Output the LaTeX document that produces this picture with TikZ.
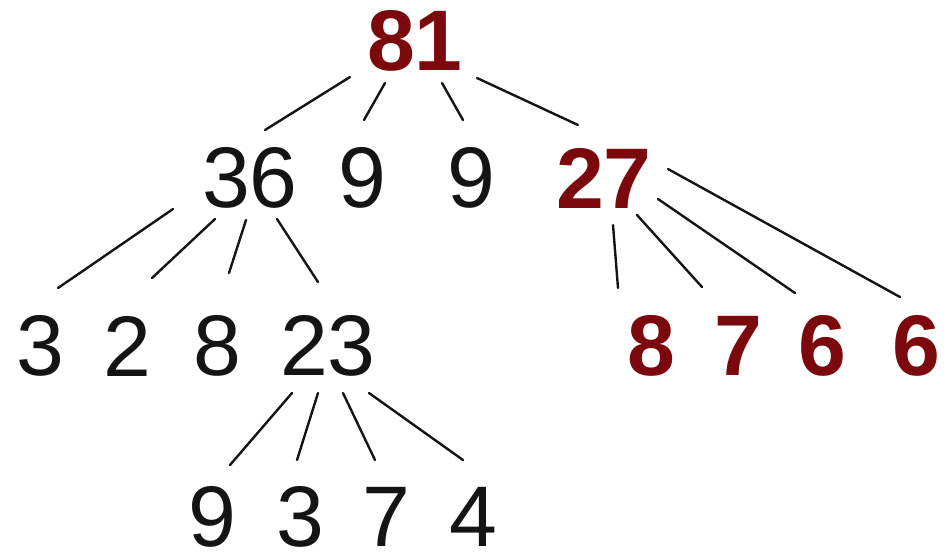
\documentclass[tikz,border=0pt]{standalone}
\usepackage{fontspec}
\setmainfont{Liberation Sans}
\usepackage{xcolor}
\usepackage{tikz}
\usetikzlibrary{calc}
\definecolor{deepred}{RGB}{122,8,12}
\definecolor{inkblack}{RGB}{20,20,20}

\begin{document}
\begin{tikzpicture}[x=0.5pt,y=-0.5pt,
  num/.style={font=\fontsize{43}{43}\selectfont,inner sep=0pt,text=inkblack},
  hot/.style={font=\fontsize{43}{43}\selectfont\bfseries,inner sep=0pt,text=deepred},
  edge/.style={line width=1.2pt,line cap=round,inkblack},
]
  \useasboundingbox (0,0) rectangle (951,554);

  % levels
  \node[hot] (r) at (415,41) {81};
  \node[num] (a) at (250,178) {36};
  \node[num] (b) at (362,178) {9};
  \node[num] (c) at (471,178) {9};
  \node[hot] (d) at (604,178) {27};
  \node[num] (a1) at (40,346) {3};
  \node[num] (a2) at (127,346) {2};
  \node[num] (a3) at (217,346) {8};
  \node[num] (a4) at (328,346) {23};
  \node[hot] (d1) at (651,346) {8};
  \node[hot] (d2) at (738,346) {7};
  \node[hot] (d3) at (822,346) {6};
  \node[hot] (d4) at (916,346) {6};
  \node[num] (e1) at (212,517) {9};
  \node[num] (e2) at (300,517) {3};
  \node[num] (e3) at (386,517) {7};
  \node[num] (e4) at (473,517) {4};

  % 81
  \draw[edge] ($(r)+(-65,36)$) -- ($(a)+(15,-48)$);
  \draw[edge] ($(r)+(-30,42)$) -- ($(b)+(2,-58)$);
  \draw[edge] ($(r)+(27,42)$) -- ($(c)+(-8,-58)$);
  \draw[edge] ($(r)+(62,37)$) -- ($(d)+(-26,-53)$);
  % 36
  \draw[edge] ($(a)+(-77,31)$) -- ($(a1)+(18,-58)$);
  \draw[edge] ($(a)+(-35,41)$) -- ($(a2)+(25,-68)$);
  \draw[edge] ($(a)+(-4,42)$) -- ($(a3)+(12,-73)$);
  \draw[edge] ($(a)+(27,41)$) -- ($(a4)+(-10,-64)$);
  % 27
  \draw[edge] ($(d)+(9,47)$) -- ($(d1)+(-33,-58)$);
  \draw[edge] ($(d)+(33,37)$) -- ($(d2)+(-36,-59)$);
  \draw[edge] ($(d)+(54,21)$) -- ($(d3)+(-27,-53)$);
  \draw[edge] ($(d)+(64,-9)$) -- ($(d4)+(-16,-49)$);
  % 23
  \draw[edge] ($(a4)+(-36,47)$) -- ($(e1)+(18,-52)$);
  \draw[edge] ($(a4)+(-10,47)$) -- ($(e2)+(-3,-57)$);
  \draw[edge] ($(a4)+(15,47)$) -- ($(e3)+(-11,-57)$);
  \draw[edge] ($(a4)+(41,47)$) -- ($(e4)+(-10,-57)$);
\end{tikzpicture}
\end{document}
